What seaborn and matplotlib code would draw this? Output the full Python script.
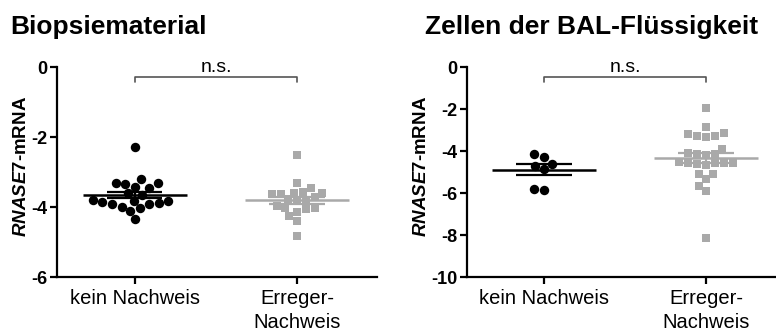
import numpy as np
import pandas as pd
import matplotlib
matplotlib.use("Agg")
import matplotlib.pyplot as plt
import seaborn as sns

# Relative RNASE7-mRNA expression (log scale) per sample
groups = ["kein Nachweis", "Erreger-\nNachweis"]

bio_kein = [-2.29, -3.32, -3.35, -3.47, -3.42, -3.32, -3.21, -3.61, -3.66, -3.80,
            -3.82, -3.88, -3.91, -3.99, -3.90, -3.87, -3.82, -4.04, -4.11, -4.35]
bio_erreger = [-2.51, -3.30, -3.59, -3.64, -3.47, -3.56, -3.59, -3.72, -3.64, -3.78,
               -3.80, -3.82, -4.04, -4.07, -3.97, -4.13, -4.04, -4.26, -4.39, -4.83]

bal_kein = [-4.27, -4.16, -4.62, -4.71, -4.87, -5.86, -5.81]
bal_erreger = [-1.94, -2.87, -3.16, -3.29, -3.32, -3.29, -3.21, -3.90, -4.10, -4.15,
               -4.20, -4.15, -4.56, -4.56, -4.59, -4.50, -4.55, -4.60, -4.65, -5.08,
               -5.10, -5.35, -5.65, -5.89, -8.13]

titles = ["Biopsiematerial", "Zellen der BAL-Flüssigkeit"]
ylabel = r"$\mathit{RNASE7}$-mRNA"
sig_label = "n.s."

panels = [
    dict(kein=bio_kein, erreger=bio_erreger, ylim=(-6, 0), yticks=[0, -2, -4, -6]),
    dict(kein=bal_kein, erreger=bal_erreger, ylim=(-10, 0), yticks=[0, -2, -4, -6, -8, -10]),
]

sns.set_theme(style="ticks")
plt.rcParams["font.family"] = ["Liberation Sans", "DejaVu Sans"]
plt.rcParams["mathtext.fontset"] = "custom"
plt.rcParams["mathtext.it"] = "Liberation Sans:bold:italic"
plt.rcParams["mathtext.rm"] = "Liberation Sans:bold"
plt.rcParams["text.color"] = "black"
plt.rcParams["axes.labelcolor"] = "black"
plt.rcParams["xtick.color"] = "black"
plt.rcParams["ytick.color"] = "black"

W, H = 776, 334
fig = plt.figure(figsize=(W / 100, H / 100), dpi=100)

black = "#000000"
gray = "#a9a9a9"

# axes boxes in pixels: (left, right), y=0 at top 67, bottom at 277
boxes = [(57, 377), (467, 776)]
xlims = [(-0.481, 1.494), (-0.475, 1.432)]
title_x = [10, 425]
label_right = [30, 430]

for i, (p, (x0, x1)) in enumerate(zip(panels, boxes)):
    ax = fig.add_axes([x0 / W, 1 - 277 / H, (x1 - x0) / W, (277 - 67) / H])

    df_k = pd.DataFrame({"grp": groups[0], "val": p["kein"]})
    df_e = pd.DataFrame({"grp": groups[1], "val": p["erreger"]})

    sns.swarmplot(data=df_k, x="grp", y="val", order=groups, ax=ax,
                  color=black, marker="o", size=6.8, linewidth=0, zorder=3)
    sns.swarmplot(data=df_e, x="grp", y="val", order=groups, ax=ax,
                  color=gray, marker="s", size=6.2, linewidth=0, zorder=3)

    # mean and SEM bars
    for pos, vals, col in [(0, p["kein"], black), (1, p["erreger"], gray)]:
        v = np.asarray(vals)
        m = v.mean()
        sem = v.std(ddof=1) / np.sqrt(len(v))
        ax.hlines(m, pos - 0.32, pos + 0.32, color=col, lw=1.8, zorder=4)
        ax.hlines([m - sem, m + sem], pos - 0.17, pos + 0.17, color=col, lw=1.6, zorder=4)
        ax.vlines(pos, m - sem, m + sem, color=col, lw=1.6, zorder=4)

    ymin, ymax = p["ylim"]
    ax.set_ylim(ymin, ymax)
    ax.set_xlim(*xlims[i])
    ax.set_yticks(p["yticks"])
    ax.set_yticklabels([str(t) for t in p["yticks"]], fontweight="bold", fontsize=13)
    ax.set_xticks([0, 1])
    ax.set_xticklabels(groups, fontsize=14.5, linespacing=1.3)
    ax.set_xlabel("")
    ax.set_ylabel(ylabel, fontsize=13.5, fontweight="bold")
    ax.yaxis.set_label_coords(label_right[i] / W, 1 - 166 / H, transform=fig.transFigure)

    for s in ["top", "right"]:
        ax.spines[s].set_visible(False)
    for s in ["left", "bottom"]:
        ax.spines[s].set_linewidth(1.6)
        ax.spines[s].set_color(black)
    ax.tick_params(axis="both", direction="out", length=5, width=1.6, colors=black,
                   pad=2)
    ax.tick_params(axis="x", pad=4)

    # significance bracket
    px_per_unit = 210 / (ymax - ymin)
    y_bar = -10 / px_per_unit
    y_tip = -15 / px_per_unit
    ax.plot([0, 0, 1, 1], [y_tip, y_bar, y_bar, y_tip], color="#555555", lw=1.2,
            clip_on=False, zorder=5)
    ax.annotate(sig_label, xy=(0.5, y_bar), xytext=(0, 1), textcoords="offset points",
                ha="center", va="bottom", fontsize=14, annotation_clip=False)

    fig.text(title_x[i] / W, 1 - 34 / H, titles[i], fontsize=19, fontweight="bold",
             ha="left", va="baseline")

fig.savefig("out.png", dpi=100)
